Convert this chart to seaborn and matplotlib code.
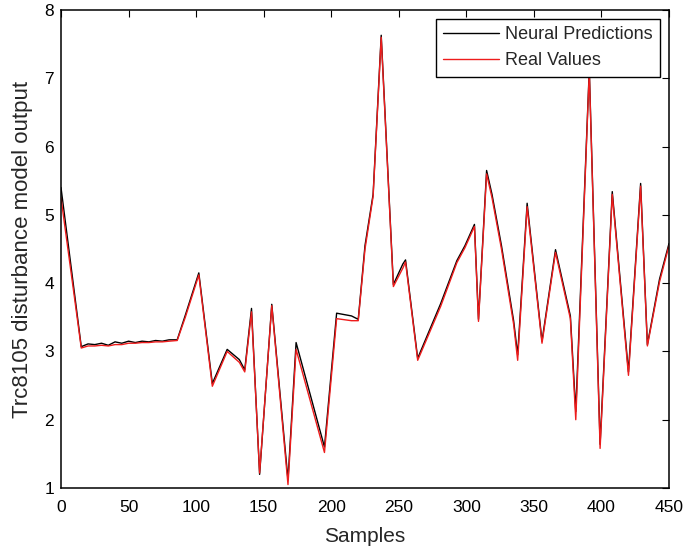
import matplotlib
matplotlib.use("Agg")
import matplotlib.pyplot as plt
import seaborn as sns
import pandas as pd

samples = [0, 15, 20, 25, 30, 35, 40, 45, 50, 55, 60, 65, 70, 75, 80, 86, 92, 102,
           112, 123, 132, 136, 141, 147, 156, 168, 174, 195, 204, 215, 220, 225, 231,
           237, 246, 253, 255, 264, 281, 293, 299, 306, 309, 315, 319, 326, 335, 338,
           345, 356, 366, 377, 381, 391, 399, 408, 420, 429, 434, 443, 450]

real_values = [5.25, 3.05, 3.08, 3.08, 3.09, 3.08, 3.10, 3.10, 3.12, 3.12, 3.13, 3.13, 3.14,
               3.14, 3.15, 3.16, 3.50, 4.12,
               2.49, 3.00, 2.84, 2.70, 3.58, 1.22, 3.67, 1.05, 3.03, 1.52, 3.48, 3.45,
               3.45, 4.50, 5.27, 7.60, 3.95, 4.22, 4.31, 2.87, 3.66, 4.30, 4.52, 4.83,
               3.44, 5.60, 5.25, 4.50, 3.40, 2.87, 5.12, 3.12, 4.45, 3.48, 2.00, 7.10,
               1.58, 5.30, 2.65, 5.42, 3.08, 4.02, 4.55]

neural_predictions = [5.40, 3.07, 3.11, 3.10, 3.12, 3.09, 3.14, 3.12, 3.15, 3.13, 3.15, 3.14,
                      3.16, 3.15, 3.17, 3.17, 3.53, 4.15,
                      2.53, 3.03, 2.88, 2.73, 3.63, 1.20, 3.69, 1.12, 3.13, 1.60, 3.56,
                      3.52, 3.47, 4.55, 5.30, 7.63, 3.98, 4.28, 4.34, 2.90, 3.70, 4.33,
                      4.55, 4.86, 3.47, 5.65, 5.30, 4.55, 3.45, 2.95, 5.17, 3.15, 4.49,
                      3.52, 2.12, 7.13, 1.64, 5.34, 2.70, 5.46, 3.10, 4.06, 4.58]

df = pd.DataFrame({
    "Samples": samples * 2,
    "value": neural_predictions + real_values,
    "series": ["Neural Predictions"] * len(samples) + ["Real Values"] * len(samples),
})

sns.set_theme(style="white")
plt.rcParams["font.family"] = ["Liberation Sans", "DejaVu Sans"]

fig = plt.figure(figsize=(6.86, 5.51), dpi=100)
ax = fig.add_axes([61 / 686, 1 - 488 / 551, (669 - 61) / 686, (488 - 10) / 551])

sns.lineplot(data=df, x="Samples", y="value", hue="series",
             palette={"Neural Predictions": "black", "Real Values": "#ee1c1c"},
             linewidth=1.0, ax=ax, sort=False, estimator=None)

ax.set_xlim(0, 450)
ax.set_ylim(1, 8)
ax.set_xticks(range(0, 451, 50))
ax.set_yticks(range(1, 9))
ax.set_xlabel("Samples", fontsize=15, labelpad=8)
ax.set_ylabel("Trc8105 disturbance model output", fontsize=16, labelpad=8)
ax.tick_params(axis="both", direction="in", length=5, width=0.8, top=True, right=True,
               labelsize=12.5, colors="black")
ax.tick_params(axis="x", pad=9)
ax.tick_params(axis="y", pad=5)
for s in ax.spines.values():
    s.set_color("black")
    s.set_linewidth(1.1)

leg = ax.legend(loc="upper right", fontsize=13, frameon=True, fancybox=False,
                edgecolor="black", framealpha=1, borderpad=0.4,
                handlelength=3.1, handletextpad=0.35, labelspacing=0.5,
                borderaxespad=0.5)
leg.get_frame().set_linewidth(1.0)

fig.savefig("out.png", dpi=100)
